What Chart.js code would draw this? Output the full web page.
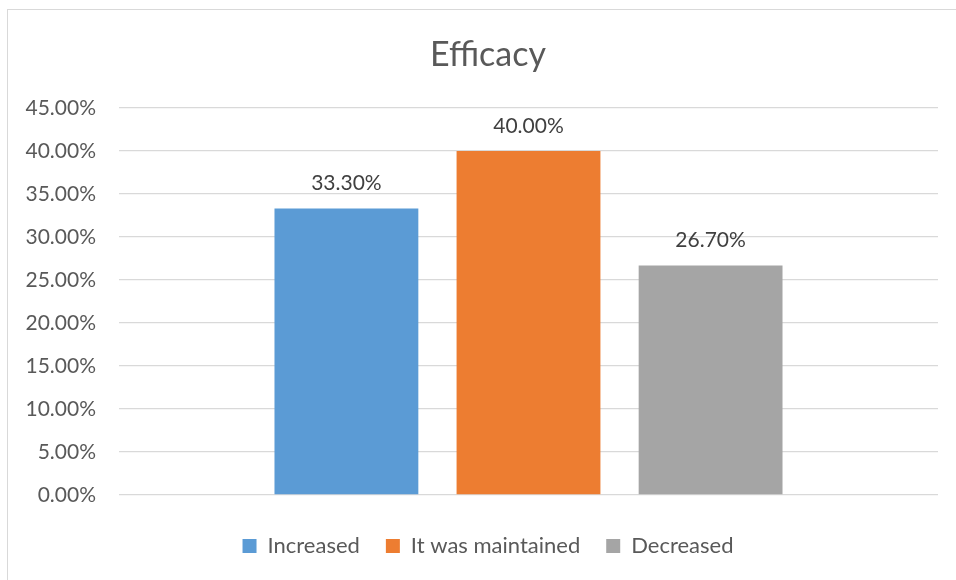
<!DOCTYPE html>
<html>
<head>
<meta charset="utf-8">
<script src="https://cdn.jsdelivr.net/npm/chart.js@4/dist/chart.umd.min.js"></script>
<style>
  html, body { margin: 0; padding: 0; background: #fff; overflow: hidden; }
  #box { position: absolute; left: 7px; top: 9px; width: 960px; height: 600px;
         border: 1px solid #d9d9d9; background: #fff; }
</style>
</head>
<body>
<div id="box"><canvas id="chart" width="960" height="600"></canvas></div>
<script>
// ── data ──
const categories = [''];
const seriesNames = ['Increased', 'It was maintained', 'Decreased'];
const seriesValues = [0.333, 0.400, 0.267];
const yTicks = [0, 0.05, 0.10, 0.15, 0.20, 0.25, 0.30, 0.35, 0.40, 0.45];
const COLORS = ['#5b9bd5', '#ed7d31', '#a5a5a5'];

const FONT = 'Lato, "Open Sans", sans-serif';
const pct = v => (v * 100).toFixed(2) + '%';

// value labels above each bar
const barLabels = {
  id: 'barLabels',
  afterDatasetsDraw(chart) {
    const ctx = chart.ctx;
    ctx.save();
    ctx.font = '21px ' + FONT;
    ctx.fillStyle = '#404040';
    ctx.textAlign = 'center';
    ctx.textBaseline = 'middle';
    chart.data.datasets.forEach((ds, i) => {
      chart.getDatasetMeta(i).data.forEach((bar, j) => {
        ctx.fillText(pct(ds.data[j]), bar.x, bar.y - 25);
      });
    });
    ctx.restore();
  }
};

new Chart(document.getElementById('chart'), {
  type: 'bar',
  data: {
    labels: categories,
    datasets: seriesNames.map((name, i) => ({
      label: name,
      data: [seriesValues[i]],
      backgroundColor: COLORS[i],
      borderWidth: 0,
      categoryPercentage: 0.667,
      barPercentage: 0.79
    }))
  },
  options: {
    responsive: false,
    animation: false,
    layout: { padding: { left: 0, right: 0, top: 0, bottom: 43 } },
    plugins: {
      title: {
        display: true, text: 'Efficacy', color: '#595959',
        font: { family: FONT, size: 34, weight: 'normal' },
        padding: { top: 24.6, bottom: 32.6 }
      },
      legend: {
        position: 'bottom',
        labels: {
          color: '#595959', boxWidth: 14, boxHeight: 14, padding: 26,
          font: { family: FONT, size: 22 }
        }
      },
      tooltip: { enabled: false }
    },
    scales: {
      x: {
        grid: { display: false }, border: { display: false },
        ticks: { display: false },
        afterFit(s) { s.height = 14; }
      },
      y: {
        min: 0, max: 0.45,
        afterBuildTicks(s) { s.ticks = yTicks.map(v => ({ value: v })); },
        grid: { color: '#d9d9d9', lineWidth: 1.3, drawTicks: false },
        border: { display: false },
        ticks: {
          color: '#595959', padding: 23,
          font: { family: FONT, size: 21 },
          callback: v => pct(v)
        },
        afterFit(s) { s.width = 111; }
      },
      // empty spacer on the right so the title and legend stay centred on the chart box
      y2: {
        position: 'right',
        grid: { display: false }, border: { display: false },
        ticks: { display: false },
        afterFit(s) { s.width = 30; }
      }
    }
  },
  plugins: [barLabels]
});
</script>
</body>
</html>
